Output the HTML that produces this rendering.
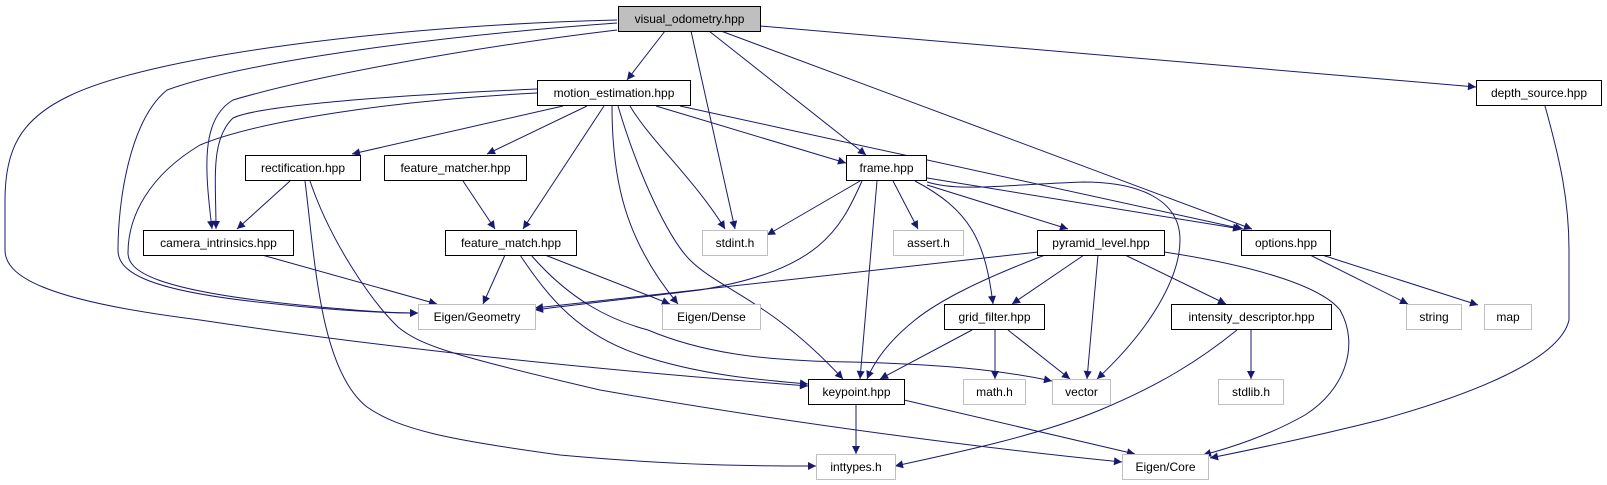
<!DOCTYPE html>
<html><head><meta charset="utf-8"><style>
html,body{margin:0;padding:0;background:#fff}
svg{display:block}
text{font-family:"Liberation Sans",Arial,sans-serif;font-size:12px;fill:#000}
</style></head><body>
<svg width="1607" height="485" viewBox="0 0 1607 485" xmlns="http://www.w3.org/2000/svg">
<defs>
<marker id="a" viewBox="0 0 10 10" refX="10" refY="5" markerWidth="10" markerHeight="8" markerUnits="userSpaceOnUse" orient="auto">
<path d="M0,0 L10,5 L0,10 z" fill="#191970"/>
</marker>
</defs>
<g fill="none" stroke="#191970" stroke-width="1" marker-end="url(#a)">
<!-- visual_odometry -->
<path d="M665,31 L627,80"/>
<path d="M691,31 L735,229"/>
<path d="M709,31 L866,155"/>
<path d="M721,31 L1252,229"/>
<path d="M760,26 L1476,87"/>
<path d="M617,30 C450,50 300,80 233,100 C200,120 205,170 212,229"/>
<path d="M617,23 C450,35 250,60 167,90 C130,120 118,200 118,250 C118,270 140,290 267,303 C330,310 380,313 418,313"/>
<path d="M617,20 C400,25 150,55 67,97 C20,120 5,150 5,200 L5,250 C5,275 40,300 200,320 C400,350 600,370 808,386"/>
<!-- motion_estimation -->
<path d="M537,89 C400,95 260,105 233,118 C210,140 216,180 216,229"/>
<path d="M537,93 C400,100 260,120 200,145 C150,175 128,215 128,253 C128,270 150,290 300,305 C360,311 390,313 418,313"/>
<path d="M563,106 L352,154"/>
<path d="M587,106 L487,154"/>
<path d="M604,106 L523,229"/>
<path d="M612,106 C612,180 625,240 678,304"/>
<path d="M618,106 C640,180 670,240 690,260 C720,290 770,300 843,379"/>
<path d="M630,106 C650,140 695,180 725,229"/>
<path d="M656,106 L846,163"/>
<path d="M680,106 L1243,229"/>
<!-- rectification -->
<path d="M290,181 L237,229"/>
<path d="M305,181 C315,260 320,370 367,407 C400,430 450,440 560,455 C680,466 760,466 816,466"/>
<path d="M310,181 C330,240 370,300 398,327 C420,345 450,355 600,390 C800,425 1000,450 1122,462"/>
<!-- feature_matcher -->
<path d="M463,181 L495,229"/>
<!-- camera_intrinsics -->
<path d="M262,255 L437,304"/>
<!-- feature_match -->
<path d="M505,255 L483,304"/>
<path d="M520,255 C550,300 580,335 640,355 C700,375 760,380 808,384"/>
<path d="M545,255 L670,304"/>
<path d="M531,255 C570,300 610,320 648,330 C700,352 760,361 850,362 C940,364 1000,370 1052,381"/>
<!-- frame -->
<path d="M860,181 L767,235"/>
<path d="M862,181 C840,230 820,270 700,290 C620,300 570,305 535,310"/>
<path d="M877,181 L860,379"/>
<path d="M893,181 L918,229"/>
<path d="M915,181 C970,210 985,240 993,304"/>
<path d="M927,185 L1068,229"/>
<path d="M927,178 L1241,229"/>
<path d="M927,182 C960,192 1000,185 1083,182 C1140,182 1180,200 1180,240 C1180,270 1160,320 1097,379"/>
<!-- pyramid_level -->
<path d="M1038,252 L535,308"/>
<path d="M1045,255 C980,280 940,300 915,320 C890,340 875,360 867,379"/>
<path d="M1084,255 L1012,304"/>
<path d="M1098,255 L1087,379"/>
<path d="M1125,255 L1226,304"/>
<path d="M1164,252 C1250,265 1320,285 1340,310 C1360,345 1345,390 1305,415 C1270,435 1230,448 1203,455"/>
<!-- options -->
<path d="M1310,255 L1408,304"/>
<path d="M1322,255 L1478,305"/>
<!-- depth_source -->
<path d="M1545,106 C1560,160 1569,200 1569,250 L1569,320 C1560,360 1470,395 1380,420 C1300,440 1240,452 1210,458"/>
<!-- grid_filter -->
<path d="M972,330 L880,379"/>
<path d="M995,330 L995,379"/>
<path d="M1008,330 L1070,379"/>
<!-- intensity_descriptor -->
<path d="M1237,330 C1200,360 1160,385 1100,410 C1040,435 960,452 895,466"/>
<path d="M1251,330 L1251,379"/>
<!-- keypoint -->
<path d="M856,405 L856,454"/>
<path d="M904,400 L1135,454"/>
</g>
<g stroke-width="1">
<rect x="618.5" y="6.5" width="142" height="25" fill="#bfbfbf" stroke="#000"/>
<rect x="537.5" y="80.5" width="153" height="25" fill="#fff" stroke="#000"/>
<rect x="1476.5" y="80.5" width="125" height="25" fill="#fff" stroke="#000"/>
<rect x="245.5" y="155.5" width="115" height="25" fill="#fff" stroke="#000"/>
<rect x="384.5" y="155.5" width="142" height="25" fill="#fff" stroke="#000"/>
<rect x="846.5" y="155.5" width="80" height="25" fill="#fff" stroke="#000"/>
<rect x="143.5" y="230.5" width="150" height="25" fill="#fff" stroke="#000"/>
<rect x="445.5" y="230.5" width="131" height="25" fill="#fff" stroke="#000"/>
<rect x="702.5" y="230.5" width="65" height="25" fill="#fff" stroke="#bfbfbf"/>
<rect x="893.5" y="230.5" width="70" height="25" fill="#fff" stroke="#bfbfbf"/>
<rect x="1037.5" y="230.5" width="127" height="25" fill="#fff" stroke="#000"/>
<rect x="1241.5" y="230.5" width="89" height="25" fill="#fff" stroke="#000"/>
<rect x="418.5" y="304.5" width="117" height="25" fill="#fff" stroke="#bfbfbf"/>
<rect x="662.5" y="304.5" width="98" height="25" fill="#fff" stroke="#bfbfbf"/>
<rect x="944.5" y="304.5" width="100" height="25" fill="#fff" stroke="#000"/>
<rect x="1171.5" y="304.5" width="160" height="25" fill="#fff" stroke="#000"/>
<rect x="1406.5" y="304.5" width="55" height="25" fill="#fff" stroke="#bfbfbf"/>
<rect x="1484.5" y="304.5" width="47" height="25" fill="#fff" stroke="#bfbfbf"/>
<rect x="808.5" y="379.5" width="96" height="25" fill="#fff" stroke="#000"/>
<rect x="963.5" y="379.5" width="62" height="25" fill="#fff" stroke="#bfbfbf"/>
<rect x="1052.5" y="379.5" width="58" height="25" fill="#fff" stroke="#bfbfbf"/>
<rect x="1218.5" y="379.5" width="65" height="25" fill="#fff" stroke="#bfbfbf"/>
<rect x="816.5" y="454.5" width="79" height="25" fill="#fff" stroke="#bfbfbf"/>
<rect x="1122.5" y="454.5" width="86" height="25" fill="#fff" stroke="#bfbfbf"/>
</g>
<g text-anchor="middle">
<text x="689.5" y="23">visual_odometry.hpp</text>
<text x="614" y="97">motion_estimation.hpp</text>
<text x="1539" y="97">depth_source.hpp</text>
<text x="303" y="172">rectification.hpp</text>
<text x="455.5" y="172">feature_matcher.hpp</text>
<text x="886.5" y="172">frame.hpp</text>
<text x="218.5" y="247">camera_intrinsics.hpp</text>
<text x="511" y="247">feature_match.hpp</text>
<text x="735" y="247">stdint.h</text>
<text x="928.5" y="247">assert.h</text>
<text x="1101" y="247">pyramid_level.hpp</text>
<text x="1286" y="247">options.hpp</text>
<text x="477" y="321">Eigen/Geometry</text>
<text x="711.5" y="321">Eigen/Dense</text>
<text x="994.5" y="321">grid_filter.hpp</text>
<text x="1251.5" y="321">intensity_descriptor.hpp</text>
<text x="1434" y="321">string</text>
<text x="1508" y="321">map</text>
<text x="856.5" y="396">keypoint.hpp</text>
<text x="994.5" y="396">math.h</text>
<text x="1081.5" y="396">vector</text>
<text x="1251" y="396">stdlib.h</text>
<text x="856" y="471">inttypes.h</text>
<text x="1165.5" y="471">Eigen/Core</text>
</g>
</svg>
</body></html>
